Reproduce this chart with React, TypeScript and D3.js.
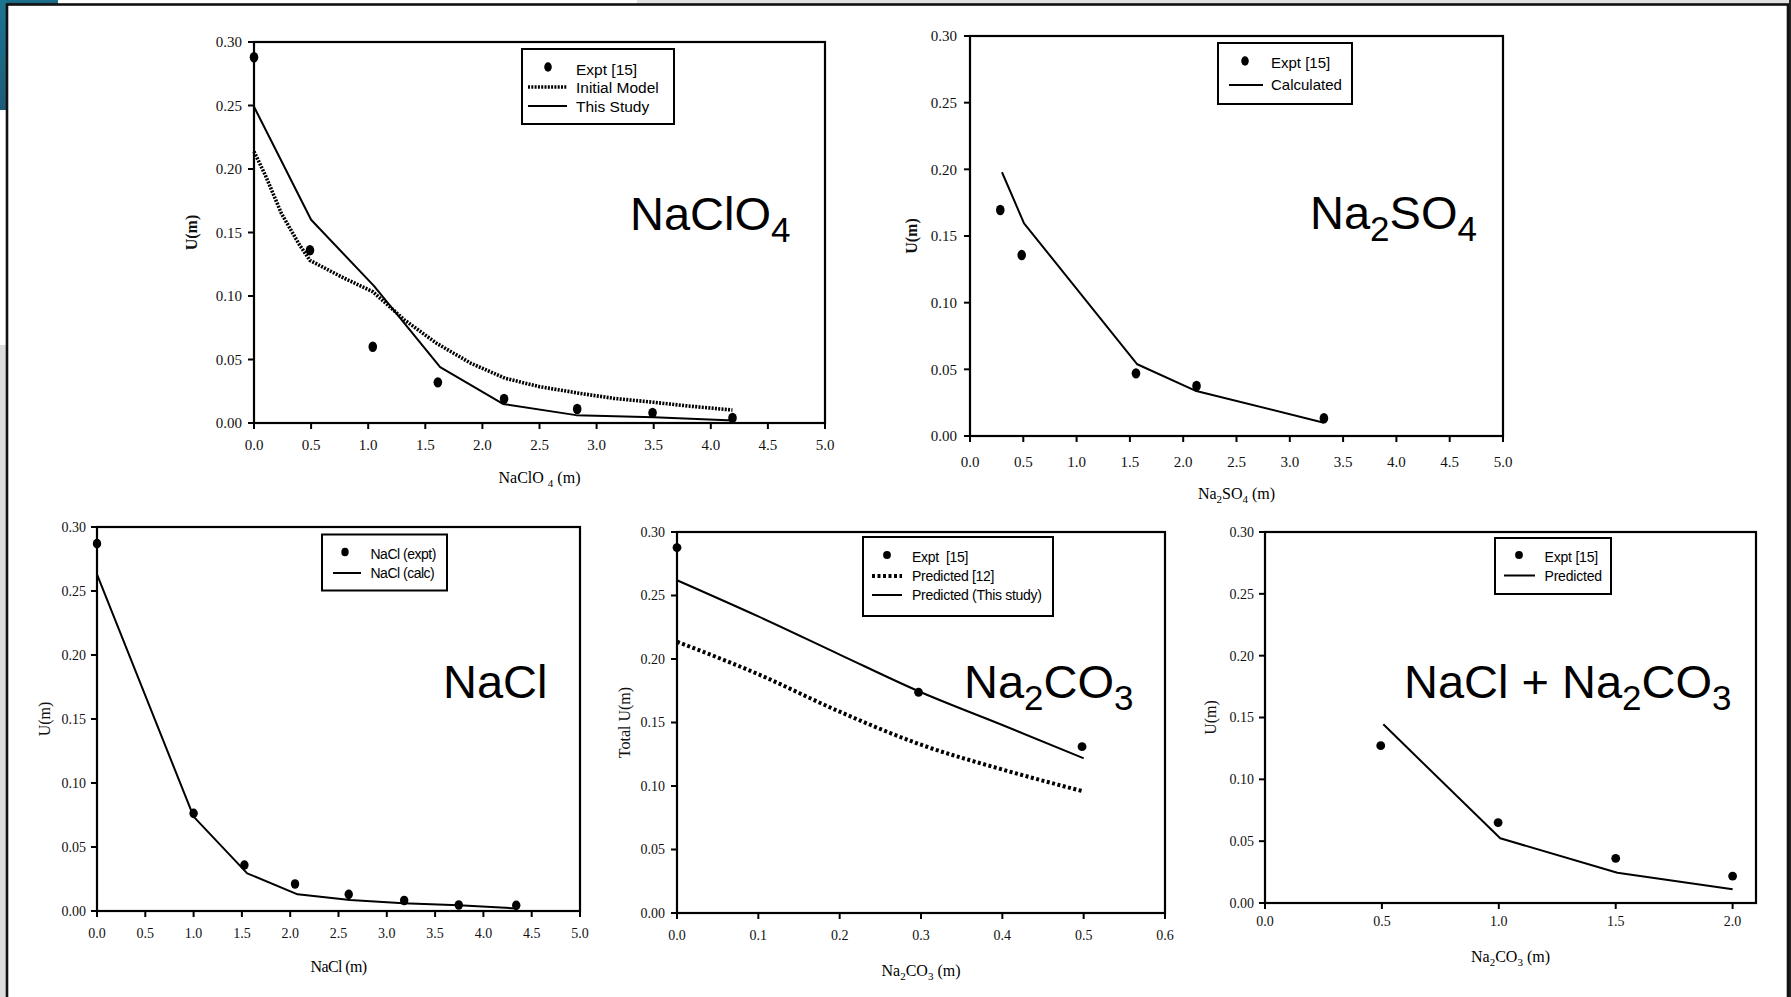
import React from "react";
import * as d3 from "d3";

const W = 1791;
const H = 997;

// ---------- NaClO4 ----------
const naclo4ExptX = [0.0, 0.49, 1.04, 1.61, 2.19, 2.83, 3.49, 4.19];
const naclo4ExptU = [0.288, 0.136, 0.06, 0.032, 0.019, 0.011, 0.008, 0.004];
const naclo4InitX = [0.0, 0.1, 0.24, 0.39, 0.49, 0.79, 1.04, 1.32, 1.6, 1.9, 2.2, 2.5, 2.85, 3.15, 3.5, 3.8, 4.19];
const naclo4InitU = [0.2137, 0.195, 0.165, 0.1415, 0.128, 0.114, 0.1034, 0.081, 0.0627, 0.047, 0.0352, 0.0286, 0.0234, 0.0194, 0.0163, 0.0134, 0.0102];
const naclo4StudyX = [0.0, 0.5, 1.05, 1.63, 2.18, 2.82, 3.5, 4.2];
const naclo4StudyU = [0.249, 0.16, 0.108, 0.044, 0.015, 0.0062, 0.0045, 0.002];
const naclo4Legend = ["Expt [15]", "Initial Model", "This Study"];

// ---------- Na2SO4 ----------
const na2so4ExptX = [0.284, 0.485, 1.557, 2.125, 3.32];
const na2so4ExptU = [0.1695, 0.1357, 0.047, 0.0375, 0.0133];
const na2so4CalcX = [0.3, 0.507, 1.569, 2.113, 3.32];
const na2so4CalcU = [0.1978, 0.1595, 0.0538, 0.034, 0.01];
const na2so4Legend = ["Expt [15]", "Calculated"];

// ---------- NaCl ----------
const naclExptX = [0.0, 1.0, 1.526, 2.05, 2.606, 3.18, 3.745, 4.34];
const naclExptU = [0.287, 0.0763, 0.0359, 0.0211, 0.013, 0.0082, 0.0047, 0.0044];
const naclCalcX = [0.0, 1.0, 1.555, 2.076, 2.62, 3.17, 3.745, 4.34];
const naclCalcU = [0.263, 0.0737, 0.0294, 0.013, 0.0086, 0.006, 0.0045, 0.002];
const naclLegend = ["NaCl (expt)", "NaCl (calc)"];

// ---------- Na2CO3 ----------
const na2co3ExptX = [0.0, 0.297, 0.498];
const na2co3ExptU = [0.2877, 0.1738, 0.131];
const na2co3Pred12X = [0.0, 0.1, 0.2, 0.3, 0.4, 0.5];
const na2co3Pred12U = [0.2136, 0.188, 0.1585, 0.1325, 0.113, 0.0957];
const na2co3StudyX = [0.0, 0.1, 0.2, 0.3, 0.4, 0.5];
const na2co3StudyU = [0.262, 0.2335, 0.2035, 0.1738, 0.148, 0.1218];
const na2co3Legend = ["Expt  [15]", "Predicted [12]", "Predicted (This study)"];

// ---------- NaCl + Na2CO3 ----------
const mixExptX = [0.495, 0.997, 1.5, 2.0];
const mixExptU = [0.1272, 0.065, 0.0361, 0.0218];
const mixPredX = [0.506, 1.006, 1.507, 2.0];
const mixPredU = [0.1445, 0.0523, 0.0245, 0.0111];
const mixLegend = ["Expt [15]", "Predicted"];

// shared axis ticks
const uTicks = [0, 0.05, 0.1, 0.15, 0.2, 0.25, 0.3];
const molTicks = [0, 0.5, 1, 1.5, 2, 2.5, 3, 3.5, 4, 4.5, 5];
const carbTicks = [0, 0.1, 0.2, 0.3, 0.4, 0.5, 0.6];
const mixTicks = [0, 0.5, 1, 1.5, 2];

type Kind = "point" | "solid" | "dotted";
interface SeriesDef {
  kind: Kind;
  xs: number[];
  ys: number[];
  smooth?: boolean;
}
interface Part {
  t: string;
  sub?: boolean;
}
interface LegendBox {
  x0: number;
  y0: number;
  x1: number;
  y1: number;
  rows: number[];
  symX: number;
  lx0: number;
  lx1: number;
  textX: number;
  size: number;
  spacing: number;
}
interface PanelDef {
  l: number;
  r: number;
  t: number;
  b: number;
  xMax: number;
  xTicks: number[];
  tickSize: number;
  yLabelX: number;
  xLabelY: number;
  xTitle: Part[];
  xTitleY: number;
  xTitleSpacing: number;
  yTitle: string;
  yTitleX: number;
  yTitleBold: boolean;
  series: SeriesDef[];
  legendNames: string[];
  legend: LegendBox;
  label: Part[];
  labelX: number;
  labelY: number;
  marker: [number, number];
  dash: { width: number; array: string };
}

const SERIF = "'Liberation Serif', 'Times New Roman', serif";
const SANS = "'Liberation Sans', Arial, sans-serif";

function Formula(props: {
  parts: Part[];
  x: number;
  y: number;
  size: number;
  subSize: number;
  shift: number;
  anchor?: string;
  family: string;
  spacing?: number;
}) {
  const { parts, x, y, size, subSize, shift, anchor, family, spacing } = props;
  let cur = 0;
  return (
    <text
      x={x}
      y={y}
      fontSize={size}
      fontFamily={family}
      textAnchor={anchor || "start"}
      letterSpacing={spacing || 0}
      fill="#000"
      style={{ whiteSpace: "pre" }}
    >
      {parts.map((p, i) => {
        const target = p.sub ? shift : 0;
        const dy = target - cur;
        cur = target;
        return (
          <tspan key={i} dy={dy} fontSize={p.sub ? subSize : size}>
            {p.t}
          </tspan>
        );
      })}
    </text>
  );
}

function Panel({ p }: { p: PanelDef }) {
  const x = d3.scaleLinear().domain([0, p.xMax]).range([p.l, p.r]);
  const y = d3.scaleLinear().domain([0, 0.3]).range([p.b, p.t]);
  const fx = d3.format(".1f");
  const fy = d3.format(".2f");
  const tickLen = 6;

  const lineGen = (smooth?: boolean) =>
    d3
      .line<[number, number]>()
      .x((d) => x(d[0]))
      .y((d) => y(d[1]))
      .curve(smooth ? d3.curveMonotoneX : d3.curveLinear);

  const lines = p.series.filter((s) => s.kind !== "point");
  const points = p.series.filter((s) => s.kind === "point");
  const lg = p.legend;

  return (
    <g>
      {/* axes ticks */}
      {uTicks.map((v) => (
        <g key={"y" + v}>
          <line x1={p.l - tickLen} x2={p.l} y1={y(v)} y2={y(v)} stroke="#000" strokeWidth={2} />
          <text
            x={p.yLabelX}
            y={y(v) + p.tickSize * 0.35}
            fontSize={p.tickSize}
            fontFamily={SERIF}
            textAnchor="end"
            fill="#111"
          >
            {fy(v)}
          </text>
        </g>
      ))}
      {p.xTicks.map((v) => (
        <g key={"x" + v}>
          <line x1={x(v)} x2={x(v)} y1={p.b} y2={p.b + tickLen} stroke="#000" strokeWidth={2} />
          <text
            x={x(v)}
            y={p.xLabelY}
            fontSize={p.tickSize}
            fontFamily={SERIF}
            textAnchor="middle"
            fill="#111"
          >
            {fx(v)}
          </text>
        </g>
      ))}

      {/* series lines */}
      {lines.map((s, i) => (
        <path
          key={"l" + i}
          d={lineGen(s.smooth)(s.xs.map((v, k) => [v, s.ys[k]] as [number, number])) || ""}
          fill="none"
          stroke="#000"
          strokeWidth={s.kind === "dotted" ? p.dash.width : 2}
          strokeDasharray={s.kind === "dotted" ? p.dash.array : undefined}
          strokeLinejoin="round"
        />
      ))}
      {points.map((s, i) =>
        s.xs.map((v, k) => (
          <ellipse
            key={"p" + i + "-" + k}
            cx={x(v)}
            cy={y(s.ys[k])}
            rx={p.marker[0]}
            ry={p.marker[1]}
            fill="#000"
          />
        ))
      )}

      {/* plot frame */}
      <rect
        x={p.l}
        y={p.t}
        width={p.r - p.l}
        height={p.b - p.t}
        fill="none"
        stroke="#000"
        strokeWidth={2.2}
      />

      {/* legend */}
      <rect
        x={lg.x0}
        y={lg.y0}
        width={lg.x1 - lg.x0}
        height={lg.y1 - lg.y0}
        fill="#fff"
        stroke="#000"
        strokeWidth={2}
      />
      {p.series.map((s, i) => {
        const ry = lg.rows[i];
        return (
          <g key={"lg" + i}>
            {s.kind === "point" ? (
              <ellipse cx={lg.symX} cy={ry - 2} rx={p.marker[0] - 0.5} ry={p.marker[1] - 0.5} fill="#000" />
            ) : (
              <line
                x1={lg.lx0}
                x2={lg.lx1}
                y1={ry}
                y2={ry}
                stroke="#000"
                strokeWidth={s.kind === "dotted" ? p.dash.width : 2}
                strokeDasharray={s.kind === "dotted" ? p.dash.array : undefined}
              />
            )}
            <text
              x={lg.textX}
              y={ry + lg.size * 0.36}
              fontSize={lg.size}
              fontFamily={SANS}
              letterSpacing={lg.spacing}
              fill="#000"
              style={{ whiteSpace: "pre" }}
            >
              {p.legendNames[i]}
            </text>
          </g>
        );
      })}

      {/* axis titles */}
      <Formula
        parts={p.xTitle}
        x={(p.l + p.r) / 2}
        y={p.xTitleY}
        size={16}
        subSize={11}
        shift={4}
        anchor="middle"
        family={SERIF}
        spacing={p.xTitleSpacing}
      />
      <text
        transform={`translate(${p.yTitleX},${(p.t + p.b) / 2}) rotate(-90)`}
        fontSize={16}
        fontFamily={SERIF}
        fontWeight={p.yTitleBold ? "bold" : "normal"}
        textAnchor="middle"
        dy={5.5}
        fill="#111"
      >
        {p.yTitle}
      </text>

      {/* electrolyte label */}
      <Formula parts={p.label} x={p.labelX} y={p.labelY} size={47} subSize={35} shift={12} family={SANS} />
    </g>
  );
}

const panels: PanelDef[] = [
  {
    l: 254, r: 825, t: 42, b: 423,
    xMax: 5, xTicks: molTicks, tickSize: 15, yLabelX: 242, xLabelY: 450,
    xTitle: [{ t: "NaClO " }, { t: "4", sub: true }, { t: " (m)" }], xTitleY: 483, xTitleSpacing: 0,
    yTitle: "U(m)", yTitleX: 191, yTitleBold: true,
    series: [
      { kind: "point", xs: naclo4ExptX, ys: naclo4ExptU },
      { kind: "dotted", xs: naclo4InitX, ys: naclo4InitU },
      { kind: "solid", xs: naclo4StudyX, ys: naclo4StudyU },
    ],
    legendNames: naclo4Legend,
    legend: { x0: 522, y0: 49, x1: 674, y1: 124, rows: [69, 87, 106], symX: 548, lx0: 528, lx1: 567, textX: 576, size: 15.5, spacing: 0 },
    label: [{ t: "NaClO" }, { t: "4", sub: true }], labelX: 630, labelY: 230,
    marker: [4.3, 5.2],
    dash: { width: 3.6, array: "2 1.3" },
  },
  {
    l: 970, r: 1503, t: 36, b: 436,
    xMax: 5, xTicks: molTicks, tickSize: 15, yLabelX: 957, xLabelY: 467,
    xTitle: [{ t: "Na" }, { t: "2", sub: true }, { t: "SO" }, { t: "4", sub: true }, { t: " (m)" }], xTitleY: 499, xTitleSpacing: 0,
    yTitle: "U(m)", yTitleX: 911, yTitleBold: true,
    series: [
      { kind: "point", xs: na2so4ExptX, ys: na2so4ExptU },
      { kind: "solid", xs: na2so4CalcX, ys: na2so4CalcU },
    ],
    legendNames: na2so4Legend,
    legend: { x0: 1218, y0: 43, x1: 1352, y1: 104, rows: [63, 85], symX: 1245, lx0: 1229, lx1: 1263, textX: 1271, size: 15, spacing: 0 },
    label: [{ t: "Na" }, { t: "2", sub: true }, { t: "SO" }, { t: "4", sub: true }], labelX: 1310, labelY: 229,
    marker: [4.3, 5.2],
    dash: { width: 3.6, array: "2 1.3" },
  },
  {
    l: 97, r: 580, t: 527, b: 911,
    xMax: 5, xTicks: molTicks, tickSize: 14, yLabelX: 86, xLabelY: 938,
    xTitle: [{ t: "NaCl (m)" }], xTitleY: 972, xTitleSpacing: -0.6,
    yTitle: "U(m)", yTitleX: 44, yTitleBold: false,
    series: [
      { kind: "point", xs: naclExptX, ys: naclExptU },
      { kind: "solid", xs: naclCalcX, ys: naclCalcU },
    ],
    legendNames: naclLegend,
    legend: { x0: 322, y0: 534.5, x1: 447, y1: 590.5, rows: [554, 573], symX: 345, lx0: 333, lx1: 361, textX: 370.5, size: 14, spacing: -0.5 },
    label: [{ t: "NaCl" }], labelX: 443, labelY: 698,
    marker: [4.2, 4.8],
    dash: { width: 3.6, array: "2 1.3" },
  },
  {
    l: 677, r: 1165, t: 532, b: 913,
    xMax: 0.6, xTicks: carbTicks, tickSize: 14, yLabelX: 665, xLabelY: 940,
    xTitle: [{ t: "Na" }, { t: "2", sub: true }, { t: "CO" }, { t: "3", sub: true }, { t: " (m)" }], xTitleY: 976, xTitleSpacing: 0,
    yTitle: "Total U(m)", yTitleX: 624, yTitleBold: false,
    series: [
      { kind: "point", xs: na2co3ExptX, ys: na2co3ExptU },
      { kind: "dotted", xs: na2co3Pred12X, ys: na2co3Pred12U, smooth: true },
      { kind: "solid", xs: na2co3StudyX, ys: na2co3StudyU, smooth: true },
    ],
    legendNames: na2co3Legend,
    legend: { x0: 863, y0: 537, x1: 1053, y1: 616, rows: [557, 576, 595], symX: 887, lx0: 872, lx1: 902, textX: 912, size: 14, spacing: -0.3 },
    label: [{ t: "Na" }, { t: "2", sub: true }, { t: "CO" }, { t: "3", sub: true }], labelX: 964, labelY: 698,
    marker: [4.4, 4.4],
    dash: { width: 4, array: "3 2.5" },
  },
  {
    l: 1265, r: 1756, t: 532, b: 903,
    xMax: 2.1, xTicks: mixTicks, tickSize: 14, yLabelX: 1254, xLabelY: 926,
    xTitle: [{ t: "Na" }, { t: "2", sub: true }, { t: "CO" }, { t: "3", sub: true }, { t: " (m)" }], xTitleY: 962, xTitleSpacing: 0,
    yTitle: "U(m)", yTitleX: 1210, yTitleBold: false,
    series: [
      { kind: "point", xs: mixExptX, ys: mixExptU },
      { kind: "solid", xs: mixPredX, ys: mixPredU },
    ],
    legendNames: mixLegend,
    legend: { x0: 1495, y0: 538, x1: 1611, y1: 594, rows: [557, 575.5], symX: 1519, lx0: 1504, lx1: 1535, textX: 1544.5, size: 14, spacing: -0.2 },
    label: [{ t: "NaCl + Na" }, { t: "2", sub: true }, { t: "CO" }, { t: "3", sub: true }], labelX: 1404, labelY: 698,
    marker: [4.4, 4.4],
    dash: { width: 3.6, array: "2 1.3" },
  },
];

export default function App() {
  return (
    <svg
      width={W}
      height={H}
      viewBox={`0 0 ${W} ${H}`}
      style={{ position: "fixed", left: 0, top: 0, display: "block", background: "#fff" }}
    >
      <defs>
        <linearGradient id="teal" x1="0" y1="0" x2="0" y2="1">
          <stop offset="0" stopColor="#1c7590" />
          <stop offset="1" stopColor="#1d5b78" />
        </linearGradient>
      </defs>
      {/* slide surroundings */}
      <rect x={0} y={0} width={W} height={H} fill="#fff" />
      <rect x={637} y={0} width={W - 637} height={4} fill="#e0e0e0" />
      <rect x={0} y={0} width={58} height={4} fill="url(#teal)" />
      <rect x={0} y={0} width={7} height={110} fill="url(#teal)" />
      <rect x={0} y={345} width={6} height={H - 345} fill="#dcdcdc" />
      <rect x={1789} y={0} width={2} height={H} fill="#222" />
      {/* slide frame */}
      <rect x={7} y={4.5} width={1781} height={H + 10} fill="#fff" stroke="#111" strokeWidth={2.6} />

      {panels.map((p, i) => (
        <Panel key={i} p={p} />
      ))}
    </svg>
  );
}
